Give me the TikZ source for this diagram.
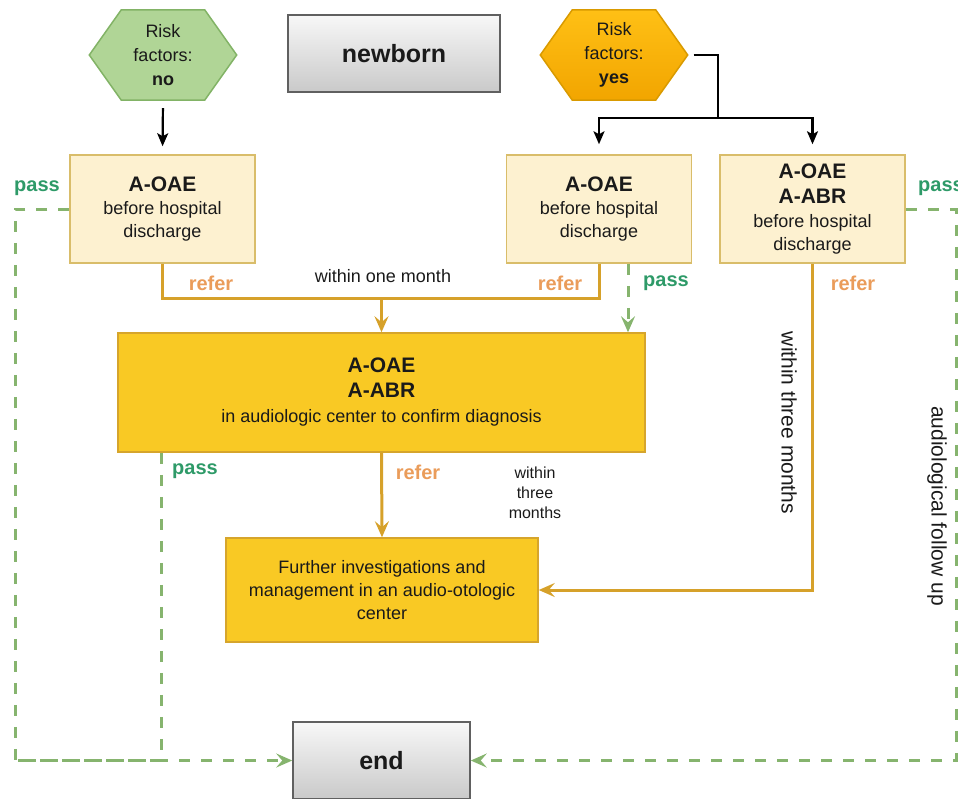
\documentclass[tikz,border=0pt]{standalone}
\usepackage{fontspec}
\setmainfont{Liberation Sans}
\usetikzlibrary{arrows.meta,calc,backgrounds}
\definecolor{hexG}{HTML}{B0D596}
\definecolor{hexGd}{HTML}{82B366}
\definecolor{hexOt}{HTML}{FFC015}
\definecolor{hexOb}{HTML}{F2A500}
\definecolor{hexOd}{HTML}{D99A00}
\definecolor{fillL}{HTML}{FDF1D0}
\definecolor{drawL}{HTML}{D9BD6A}
\definecolor{fillD}{HTML}{F9C924}
\definecolor{drawD}{HTML}{D6A52C}
\definecolor{linO}{HTML}{D6A12A}
\definecolor{refO}{HTML}{EA9C5A}
\definecolor{passT}{HTML}{2E9A68}
\definecolor{passL}{HTML}{86B46E}
\definecolor{txt}{HTML}{1A1A1A}
\begin{document}
\begin{tikzpicture}[x=1pt,y=-1pt,
  every node/.style={text=txt},
  hexa/.style={minimum width=147pt, minimum height=90pt, inner sep=0pt, align=center,
    font=\fontsize{18}{24}\selectfont},
  lbox/.style={draw=drawL, fill=fillL, line width=1.5pt, minimum width=185pt,
    minimum height=108pt, inner sep=0pt, align=center, font=\fontsize{18}{23}\selectfont},
  dbox/.style={draw=drawD, fill=fillD, line width=1.5pt, inner sep=0pt, align=center,
    font=\fontsize{18}{23}\selectfont},
  gbox/.style={draw=gray!75!black, top color=gray!6, bottom color=gray!42, line width=1.5pt,
    minimum height=77pt, inner sep=0pt, font=\fontsize{25}{30}\selectfont\bfseries},
  blk/.style={draw=black, line width=2.2pt, -{Stealth[length=13pt,width=11pt,inset=3pt]}},
  blkline/.style={draw=black, line width=2.2pt},
  refl/.style={draw=linO, line width=3pt},
  refa/.style={draw=linO, line width=3pt, -{Stealth[length=16pt,width=14pt,inset=6pt]}},
  passl/.style={draw=passL, line width=3pt, dash pattern=on 11pt off 11pt},
  passa/.style={passl, -{Stealth[length=16pt,width=14pt,inset=6pt]}},
  reflbl/.style={text=refO, font=\fontsize{20}{24}\selectfont\bfseries},
  passlbl/.style={text=passT, font=\fontsize{20}{24}\selectfont\bfseries},
  note/.style={font=\fontsize{18}{22}\selectfont, align=center},
  rnote/.style={font=\fontsize{21}{24}\selectfont, rotate=-90}
]
\useasboundingbox (0,0) rectangle (958,798);
\clip (0,0) rectangle (958,798);

% hexagons
\node[hexa] (rno) at (163,55) {Risk\\factors:\\\textbf{no}};
\node[hexa] (ryes) at (614,55) {Risk\\factors:\\\textbf{yes}};
\begin{scope}[on background layer]
\draw[fill=hexG, draw=hexGd, line width=1.5pt]
  (rno.west) -- ($(rno.north west)+(32,0)$) -- ($(rno.north east)+(-32,0)$) -- (rno.east)
  -- ($(rno.south east)+(-32,0)$) -- ($(rno.south west)+(32,0)$) -- cycle;
\draw[top color=hexOt, bottom color=hexOb, draw=hexOd, line width=1.5pt]
  (ryes.west) -- ($(ryes.north west)+(32,0)$) -- ($(ryes.north east)+(-32,0)$) -- (ryes.east)
  -- ($(ryes.south east)+(-32,0)$) -- ($(ryes.south west)+(32,0)$) -- cycle;
\end{scope}

% gray boxes
\node[gbox, minimum width=212pt] (newborn) at (394,53.5) {newborn};
\node[gbox, minimum width=177pt] (end) at (381.5,760.5) {end};

% screening boxes
\node[lbox] (b1) at (162.5,209) {{\fontsize{21}{24}\selectfont\bfseries A-OAE}\\before hospital\\discharge};
\node[lbox] (b2) at (599,209) {{\fontsize{21}{24}\selectfont\bfseries A-OAE}\\before hospital\\discharge};
\node[lbox] (b3) at (812.5,209) {{\fontsize{21}{24}\selectfont\bfseries A-OAE}\\[2pt]{\fontsize{21}{24}\selectfont\bfseries A-ABR}\\[1pt]before hospital\\discharge};

% audiologic center boxes
\node[dbox, minimum width=527pt, minimum height=119pt] (big) at (381.5,392.5)
  {{\fontsize{21}{24}\selectfont\bfseries A-OAE}\\[2pt]{\fontsize{21}{24}\selectfont\bfseries A-ABR}\\[2pt]in audiologic center to confirm diagnosis};
\node[dbox, minimum width=312pt, minimum height=104pt] (further) at (382,590)
  {Further investigations and\\management in an audio-otologic\\center};

% helper coordinates
\coordinate (jy) at (718,118);
\coordinate (mj) at (381.5,298);
\coordinate (px) at (628,0);
\coordinate (px2) at (161,0);
\coordinate (lc) at (15,760.5);
\coordinate (rc) at (956,760.5);

% black connectors
\draw[blk, shorten <=8pt, shorten >=8pt] (rno.south) -- (b1.north);
\draw[blkline, shorten <=6pt] (ryes.east) -- (ryes.east -| jy) -- (jy);
\draw[blk, shorten >=10pt] (jy) -| (b2.north);
\draw[blk, shorten >=10pt] (jy) -| (b3.north);

% refer connectors
\draw[refl] (b1.south) |- (mj) -| (b2.south);
\draw[refa] (mj) -- (big.north);
\draw[refa] (big.south) -- (further.north);
\draw[refa] (b3.south) |- (further.east);

% pass connectors
\draw[passa] (b2.south -| px) -- (big.north -| px);
\draw[passa] (b1.west) -| (lc) -- (end.west);
\draw[passl] (big.south -| px2) -- (px2 |- lc) -- (lc);
\draw[passa] (b3.east) -| (rc) -- (end.east);

% labels
\node[passlbl] (lp1) at (37,188) {pass};
\node[reflbl] (lr1) at (211,283) {refer};
\node[note] (l1m) at (383,276) {within one month};
\node[reflbl] (lr2) at (560,283) {refer};
\node[passlbl] (lp2) at (666,283) {pass};
\node[reflbl] (lr3) at (853,283) {refer};
\node[passlbl] (lp3) at (941,188) {pass};
\node[passlbl] (lp4) at (195,471) {pass};
\node[reflbl] (lr4) at (418,472) {refer};
\node[note, font=\fontsize{16}{20}\selectfont] (l3m) at (535,493) {within\\three\\months};
\node[rnote] (l3mr) at (789,423) {within three months};
\node[rnote] (lfu) at (937,506) {audiological follow up};
\end{tikzpicture}
\end{document}
